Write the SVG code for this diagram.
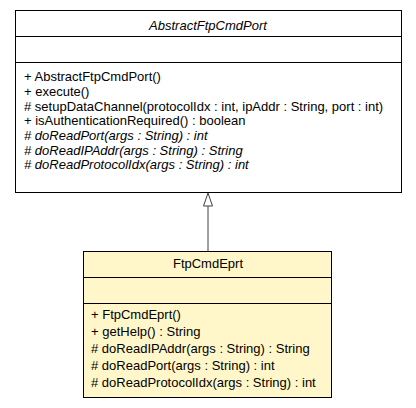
<svg xmlns="http://www.w3.org/2000/svg" width="416" height="408" viewBox="0 0 416 408">
<style>
.box{stroke:#000;stroke-width:1}
.sep{stroke:#000;stroke-width:1}
text{font-family:"Liberation Sans",Arial,sans-serif;font-size:13px;fill:#000}
.t{text-anchor:middle}
.i{font-style:italic}
.edge{stroke:#404040;stroke-width:1;fill:none}
</style>
<rect width="416" height="408" fill="#fff"/>
<g id="AbstractFtpCmdPort">
<rect class="box" x="15.5" y="10.5" width="386" height="182" fill="#fff"/>
<line class="sep" x1="15.5" y1="36.5" x2="401.5" y2="36.5"/>
<line class="sep" x1="15.5" y1="62.5" x2="401.5" y2="62.5"/>
<text class="t i" x="208" y="29.5">AbstractFtpCmdPort</text>
<text x="24" y="81">+ AbstractFtpCmdPort()</text>
<text x="24" y="95.5">+ execute()</text>
<text x="24" y="110.5"># setupDataChannel(protocolIdx : int, ipAddr : String, port : int)</text>
<text x="24" y="125">+ isAuthenticationRequired() : boolean</text>
<text class="i" x="24" y="140"># doReadPort(args : String) : int</text>
<text class="i" x="24" y="154.5"># doReadIPAddr(args : String) : String</text>
<text class="i" x="24" y="169"># doReadProtocolIdx(args : String) : int</text>
</g>
<g id="FtpCmdEprt">
<rect class="box" x="83.5" y="251.5" width="248" height="146" fill="#fff7c9"/>
<line class="sep" x1="83.5" y1="277.5" x2="331.5" y2="277.5"/>
<line class="sep" x1="83.5" y1="303.5" x2="331.5" y2="303.5"/>
<text class="t" x="208" y="267.5">FtpCmdEprt</text>
<text x="91" y="319">+ FtpCmdEprt()</text>
<text x="91" y="336">+ getHelp() : String</text>
<text x="91" y="353"># doReadIPAddr(args : String) : String</text>
<text x="91" y="370"># doReadPort(args : String) : int</text>
<text x="91" y="387"># doReadProtocolIdx(args : String) : int</text>
</g>
<g id="connectors">
<line class="edge" x1="208" y1="206" x2="208" y2="251"/>
<polygon points="208,193 203.5,206 212.5,206" fill="#fff" stroke="#404040" stroke-width="1"/>
</g>
</svg>
